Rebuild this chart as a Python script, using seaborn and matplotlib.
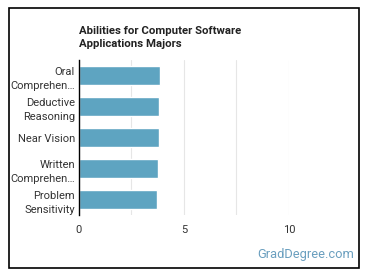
import matplotlib
matplotlib.use('Agg')
import matplotlib.pyplot as plt
import seaborn as sns
import pandas as pd
from matplotlib.patches import Rectangle

# chart data
abilities = ['Oral\nComprehen…', 'Deductive\nReasoning', 'Near Vision',
             'Written\nComprehen…', 'Problem\nSensitivity']
scores = [3.84, 3.80, 3.80, 3.75, 3.70]
ticks = [0, 5, 10]

df = pd.DataFrame({'ability': abilities, 'score': scores})

sns.set_style('white')
plt.rcParams['font.family'] = ['Roboto', 'DejaVu Sans']

fig = plt.figure(figsize=(3.7, 2.78), dpi=100)
ax = fig.add_axes([0.2135, 0.226, 0.5675, 0.558])

sns.barplot(data=df, x='score', y='ability', color='#5ea4c1', saturation=1,
            width=0.62, ax=ax)

ax.set_xlim(0, 10)
ax.set_xticks(ticks)
ax.set_xticks([2.5, 7.5], minor=True)
ax.grid(axis='x', which='both', color='#e6e6e6', linewidth=0.8)
ax.set_axisbelow(True)
for s in ['top', 'right', 'bottom']:
    ax.spines[s].set_visible(False)
ax.spines['left'].set_color('black')
ax.spines['left'].set_linewidth(1)
ax.set_xlabel('')
ax.set_ylabel('')
ax.tick_params(axis='both', which='both', length=0, labelsize=8, colors='#333333')
ax.tick_params(axis='x', pad=7)
ax.tick_params(axis='y', pad=3)
for lbl in ax.get_yticklabels():
    lbl.set_linespacing(1.5)

fig.text(0.2135, 0.825, 'Abilities for Computer Software\nApplications Majors',
         fontsize=8.2, fontweight='bold', color='#222222', ha='left', va='bottom',
         linespacing=1.35)
fig.text(0.958, 0.083, 'GradDegree.com', fontsize=9.3, color='#6a9fbf',
         ha='right', va='center')

fig.patches.append(Rectangle((0.024, 0.037), 0.946, 0.936, transform=fig.transFigure,
                             fill=False, edgecolor='black', linewidth=1.2))

fig.savefig('out.png', dpi=100)
